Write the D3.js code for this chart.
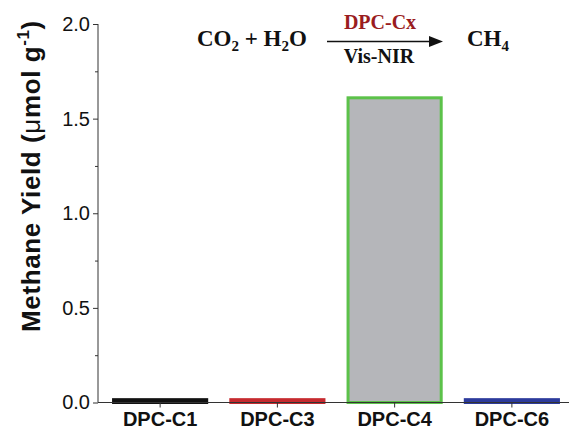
<!DOCTYPE html>
<html><head><meta charset="utf-8">
<script src="https://cdn.jsdelivr.net/npm/d3@7"></script>
<style>body{margin:0;background:#fff}svg{display:block}</style>
</head><body>
<svg id="c" width="569" height="433"></svg>
<script>
const categories = ["DPC-C1","DPC-C3","DPC-C4","DPC-C6"];
const values = [0.015, 0.015, 1.61, 0.015];
const strokeColors = ["#111111","#c62a2f","#5cc24a","#2c3b9c"];
const fillColors = ["#111111","#c62a2f","#b5b6ba","#2c3b9c"];
const yTicks = [0.0, 0.5, 1.0, 1.5, 2.0];
const yMinorTicks = [0.25, 0.75, 1.25, 1.75];

const svg = d3.select("#c");
const x0 = 98, yTop = 24, yBot = 402.5;
const x = d3.scaleBand().domain(categories).range([101.5, 570.5]).paddingInner(0.18).paddingOuter(0.09);
const y = d3.scaleLinear().domain([0, 2]).range([yBot, yTop]);

// bars
svg.append("g").selectAll("rect").data(categories).join("rect")
  .attr("x", d => x(d) + 1.5)
  .attr("width", x.bandwidth() - 3)
  .attr("y", (d,i) => y(values[i]))
  .attr("height", (d,i) => Math.max(0, yBot - y(values[i])))
  .attr("fill", (d,i) => fillColors[i])
  .attr("stroke", (d,i) => strokeColors[i])
  .attr("stroke-width", 3);

const axisColor = "#333";
const sans = "Arial, 'Liberation Sans', sans-serif";
// y axis
const ga = svg.append("g").attr("transform", `translate(${x0},0)`)
  .call(d3.axisLeft(y).tickValues(yTicks).tickFormat(d3.format(".1f")).tickSize(5).tickPadding(3));
ga.select(".domain").attr("stroke", axisColor).attr("d", `M0,${yTop}V${yBot}`);
ga.selectAll(".tick line").attr("stroke", axisColor);
ga.selectAll("text").attr("font-family", sans).attr("font-size", 20).attr("fill", "#111");
const gm = svg.append("g").attr("transform", `translate(${x0},0)`)
  .call(d3.axisLeft(y).tickValues(yMinorTicks).tickFormat("").tickSize(3));
gm.select(".domain").remove();
gm.selectAll(".tick line").attr("stroke", axisColor);

// x axis
const gx = svg.append("g").attr("transform", `translate(0,${yBot})`)
  .call(d3.axisBottom(x).tickSize(5).tickPadding(4));
gx.select(".domain").attr("stroke", axisColor).attr("d", `M${x0},0H569`);
gx.selectAll(".tick line").attr("stroke", axisColor);
gx.selectAll("text").attr("font-family", sans).attr("font-size", 20).attr("font-weight", "bold").attr("fill", "#111");

// y title
const yt = svg.append("text")
  .attr("transform", `translate(40,176) rotate(-90)`)
  .attr("text-anchor", "middle")
  .attr("font-family", sans)
  .attr("letter-spacing", 0.6)
  .attr("font-size", 26).attr("font-weight", "bold").attr("fill", "#111");
yt.append("tspan").text("Methane Yield (");
yt.append("tspan").attr("font-weight", "normal").text("μ");
yt.append("tspan").text("mol g");
yt.append("tspan").attr("font-size", 17).attr("dy", -11).text("-1");
yt.append("tspan").attr("dy", 11).text(")");

// reaction
const serif = "'Times New Roman', 'Liberation Serif', serif";
const r = svg.append("text").attr("x", 197).attr("y", 46)
  .attr("font-family", serif).attr("font-size", 23).attr("font-weight", "bold").attr("fill", "#111");
r.append("tspan").text("CO");
r.append("tspan").attr("font-size", 15).attr("dy", 5).text("2");
r.append("tspan").attr("dy", -5).text(" + H");
r.append("tspan").attr("font-size", 15).attr("dy", 5).text("2");
r.append("tspan").attr("dy", -5).text("O");
const p = svg.append("text").attr("x", 467).attr("y", 46)
  .attr("font-family", serif).attr("font-size", 23).attr("font-weight", "bold").attr("fill", "#111");
p.append("tspan").text("CH");
p.append("tspan").attr("font-size", 15).attr("dy", 5).text("4");
svg.append("line").attr("x1", 327).attr("x2", 432).attr("y1", 41.5).attr("y2", 41.5).attr("stroke", "#111").attr("stroke-width", 1.4);
svg.append("path").attr("d", "M443,41.5 L429,36 L429,47 Z").attr("fill", "#111");
svg.append("text").attr("x", 380).attr("y", 28.5).attr("text-anchor", "middle")
  .attr("font-family", serif).attr("font-size", 20).attr("font-weight", "bold").attr("fill", "#9a1c20").text("DPC-Cx");
svg.append("text").attr("x", 379).attr("y", 63).attr("text-anchor", "middle")
  .attr("font-family", serif).attr("font-size", 20).attr("font-weight", "bold").attr("fill", "#111").text("Vis-NIR");
</script>
</body></html>
